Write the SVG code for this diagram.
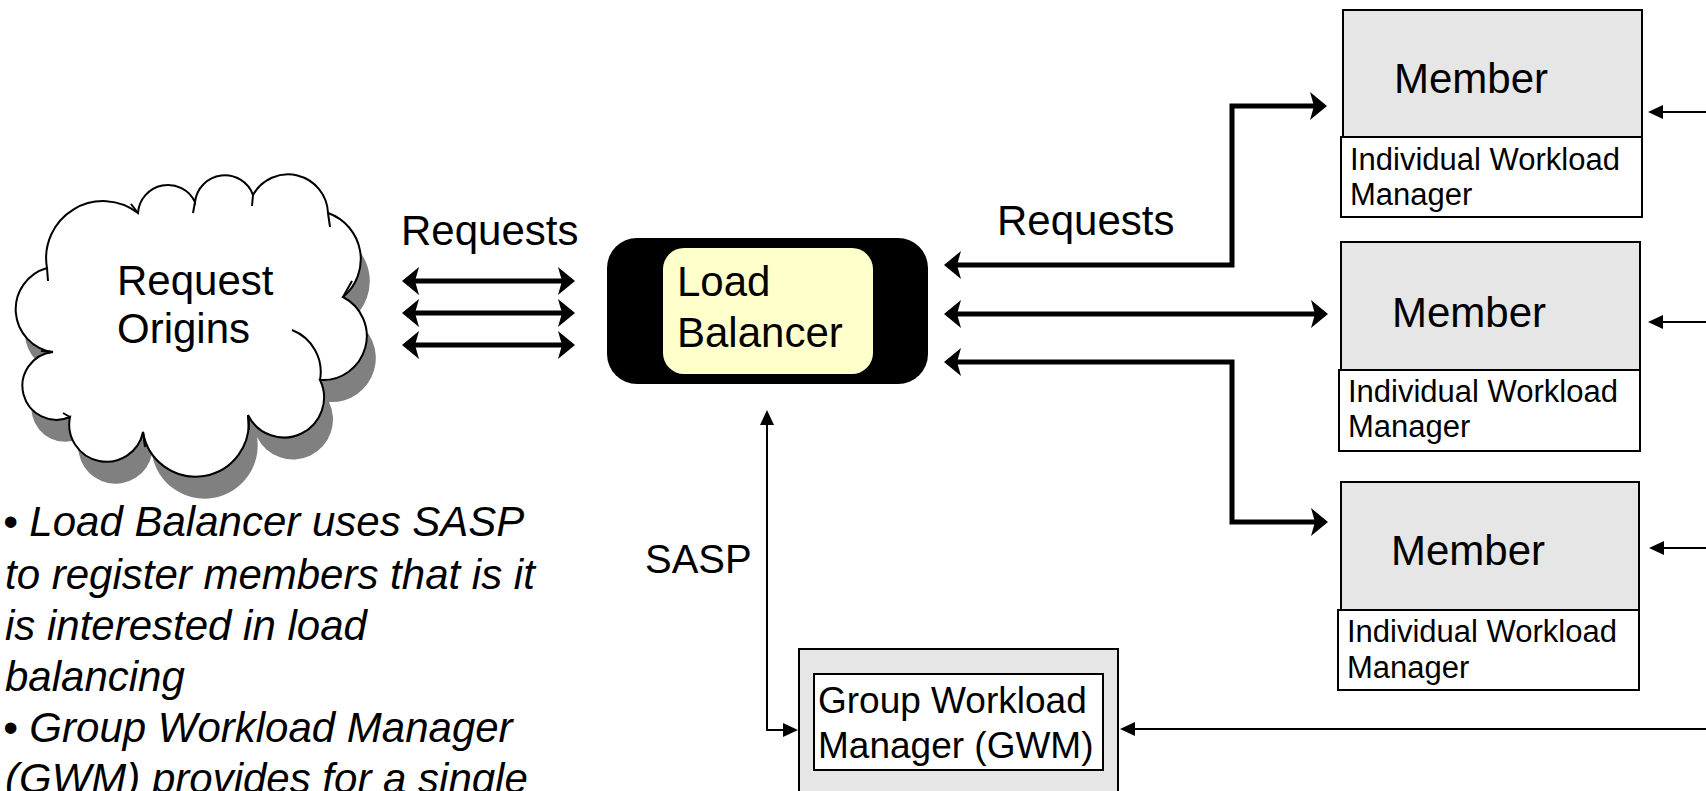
<svg xmlns="http://www.w3.org/2000/svg" width="1706" height="791" viewBox="0 0 1706 791">
<style>
  text { font-family: "Liberation Sans", Arial, sans-serif; fill: #000; }
  .big { font-size: 42px; }
  .iwm { font-size: 31px; }
  .gwm { font-size: 37px; }
  .note { font-size: 42px; font-style: italic; }
  .member { fill: #E6E6E6; stroke: #000; stroke-width: 2; }
  .wbox { fill: #FFFFFF; stroke: #000; stroke-width: 2; }
  .thick { fill: none; stroke: #000; stroke-width: 5; stroke-linejoin: miter; }
  .thin { fill: none; stroke: #000; stroke-width: 2; }
  .cloud { fill: #FFFFFF; stroke: #000; stroke-width: 2; }
</style>
<defs>
  <marker id="headThick" markerUnits="userSpaceOnUse" viewBox="-6 -16 22 32" markerWidth="22" markerHeight="32" refX="0" refY="0" orient="auto-start-reverse">
    <path d="M13,0 L-4,-14 L0,0 L-4,14 Z" fill="#000"/>
  </marker>
  <marker id="headThin" markerUnits="userSpaceOnUse" viewBox="-1 -8 17 16" markerWidth="17" markerHeight="16" refX="0" refY="0" orient="auto-start-reverse">
    <path d="M15,0 L0,-7 L0,7 Z" fill="#000"/>
  </marker>
  <path id="cloudShape" d="M47,268 A43,43 0 0 0 53,352 A34,34 0 1 0 70,417 A37,37 0 0 0 143,432 A53,53 0 0 0 248,415 A40,40 0 0 0 320,380 A44,44 0 0 0 343,297 A49,49 0 0 0 328,213 A40,40 0 0 0 253,195 A30,30 0 0 0 195,202 A30,30 0 0 0 138,213 A57,57 0 0 0 47,268 Z"/>
</defs>

<g id="request-origins">
  <use href="#cloudShape" transform="translate(9,22)" fill="#808080" stroke="none"/>
  <use href="#cloudShape" class="cloud"/>
  <path d="M292,330 A45,45 0 0 1 320,380 M343,297 L352,281 M328,213 L330,227 M253,195 L252,206 M195,202 L193,213 M131,204 L138,213 M47,268 L48,281 M53,352 L41,351 M70,417 L63,413 M143,432 L145,447 M248,415 L249,430" fill="none" stroke="#000" stroke-width="2"/>
  <text class="big" x="117" y="295">Request</text>
  <text class="big" x="117" y="343">Origins</text>
</g>

<g id="load-balancer">
  <rect x="607" y="238" width="321" height="146" rx="30" ry="30" fill="#000"/>
  <rect x="663" y="248" width="210" height="126" rx="21" ry="21" fill="#FFFFCC"/>
  <text class="big" x="677" y="296">Load</text>
  <text class="big" x="677" y="347">Balancer</text>
</g>

<g id="member-1">
  <rect class="member" x="1343" y="10" width="299" height="127"/>
  <rect class="wbox" x="1341" y="137" width="301" height="80"/>
  <text class="big" x="1394" y="93">Member</text>
  <text class="iwm" x="1350" y="170">Individual Workload</text>
  <text class="iwm" x="1350" y="205">Manager</text>
</g>

<g id="member-2">
  <rect class="member" x="1341" y="242" width="299" height="128"/>
  <rect class="wbox" x="1339" y="370" width="301" height="81"/>
  <text class="big" x="1392" y="327">Member</text>
  <text class="iwm" x="1348" y="402">Individual Workload</text>
  <text class="iwm" x="1348" y="437">Manager</text>
</g>

<g id="member-3">
  <rect class="member" x="1341" y="482" width="298" height="128"/>
  <rect class="wbox" x="1338" y="610" width="301" height="80"/>
  <text class="big" x="1391" y="565">Member</text>
  <text class="iwm" x="1347" y="642">Individual Workload</text>
  <text class="iwm" x="1347" y="678">Manager</text>
</g>

<g id="group-workload-manager">
  <rect class="member" x="799" y="649" width="319" height="160"/>
  <rect class="wbox" x="814" y="674" width="289" height="96"/>
  <text class="gwm" x="818" y="713">Group Workload</text>
  <text class="gwm" x="818" y="758">Manager (GWM)</text>
</g>

<g id="connectors">
  <path class="thick" d="M415,281 H562" marker-start="url(#headThick)" marker-end="url(#headThick)"/>
  <path class="thick" d="M415,313 H562" marker-start="url(#headThick)" marker-end="url(#headThick)"/>
  <path class="thick" d="M415,345 H562" marker-start="url(#headThick)" marker-end="url(#headThick)"/>
  <path class="thick" d="M957,265 H1232 V106 H1314" marker-start="url(#headThick)" marker-end="url(#headThick)"/>
  <path class="thick" d="M957,314 H1315" marker-start="url(#headThick)" marker-end="url(#headThick)"/>
  <path class="thick" d="M957,362 H1232 V522 H1315" marker-start="url(#headThick)" marker-end="url(#headThick)"/>
  <path class="thin" d="M1706,112 H1663" marker-end="url(#headThin)"/>
  <path class="thin" d="M1706,322 H1663" marker-end="url(#headThin)"/>
  <path class="thin" d="M1706,548 H1664" marker-end="url(#headThin)"/>
  <path class="thin" d="M1706,729 H1135" marker-end="url(#headThin)"/>
  <path class="thin" d="M767,425 V730 H783" marker-start="url(#headThin)" marker-end="url(#headThin)"/>
</g>

<g id="labels">
  <text class="big" x="401" y="245">Requests</text>
  <text class="big" x="997" y="235">Requests</text>
  <text class="big" x="645" y="573" style="font-size:40px">SASP</text>
</g>

<g id="notes">
  <text class="note" x="3" y="536">• Load Balancer uses SASP</text>
  <text class="note" x="5" y="589">to register members that is it</text>
  <text class="note" x="5" y="640">is interested in load</text>
  <text class="note" x="5" y="691">balancing</text>
  <text class="note" x="3" y="742">• Group Workload Manager</text>
  <text class="note" x="5" y="793">(GWM) provides for a single</text>
</g>
</svg>
